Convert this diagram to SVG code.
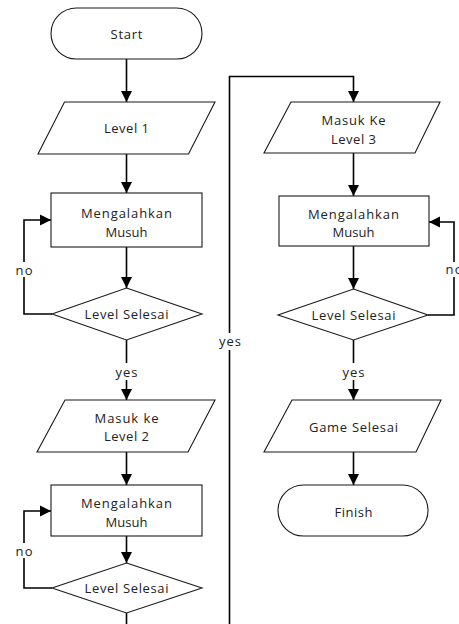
<svg xmlns="http://www.w3.org/2000/svg" width="459" height="624" viewBox="0 0 459 624">
<defs>
<marker id="ah" markerUnits="userSpaceOnUse" markerWidth="12" markerHeight="12" viewBox="0 0 12 12" refX="11" refY="6" orient="auto">
<path d="M0,0.5 L11,6 L0,11.5 Z" fill="#000"/>
</marker>
<style>
.sh{fill:#fff;stroke:#1a1a1a;stroke-width:1.1}
.ln{fill:none;stroke:#000;stroke-width:1.6}
.tx{font-family:"Open Sans","Liberation Sans",sans-serif;font-size:13px;fill:#222;text-anchor:middle;dominant-baseline:central}
.bg{fill:#fff}
</style>
</defs>
<rect width="459" height="624" fill="#fff"/>
<g id="connectors">
<path class="ln" d="M126.5,59 V102" marker-end="url(#ah)"/>
<path class="ln" d="M126.5,154 V193" marker-end="url(#ah)"/>
<path class="ln" d="M126.5,247 V288" marker-end="url(#ah)"/>
<path class="ln" d="M52,314 H24 V220 H51" marker-end="url(#ah)"/>
<path class="ln" d="M126.5,340 V400" marker-end="url(#ah)"/>
<path class="ln" d="M126.5,452 V485" marker-end="url(#ah)"/>
<path class="ln" d="M126.5,536 V563" marker-end="url(#ah)"/>
<path class="ln" d="M52,588 H24 V511 H51" marker-end="url(#ah)"/>
<path class="ln" d="M126.5,613 V640"/>
<path class="ln" d="M229.5,640 V76.5 H353.5 V102" marker-end="url(#ah)"/>
<path class="ln" d="M353.5,153 V196" marker-end="url(#ah)"/>
<path class="ln" d="M353.5,246 V289" marker-end="url(#ah)"/>
<path class="ln" d="M428,315 H454 V222 H429" marker-end="url(#ah)"/>
<path class="ln" d="M353.5,340 V400" marker-end="url(#ah)"/>
<path class="ln" d="M353.5,452 V485" marker-end="url(#ah)"/>
<rect class="bg" x="14" y="262" width="20" height="15"/>
<text class="tx" x="24" y="270" textLength="17">no</text>
<rect class="bg" x="14" y="543" width="20" height="15"/>
<text class="tx" x="24" y="551" textLength="17">no</text>
<rect class="bg" x="444" y="262" width="15" height="15"/>
<text class="tx" x="454" y="269" textLength="17">no</text>
<rect class="bg" x="114" y="363" width="25" height="17"/>
<text class="tx" x="126.5" y="372" textLength="22">yes</text>
<rect class="bg" x="341" y="363" width="25" height="17"/>
<text class="tx" x="353.5" y="372" textLength="22">yes</text>
<rect class="bg" x="217" y="333" width="26" height="17"/>
<text class="tx" x="230" y="341" textLength="22">yes</text>
</g>
<g id="start">
<rect class="sh" x="51" y="8" width="151" height="51" rx="25.5"/>
<text class="tx" x="126.5" y="34" textLength="32">Start</text>
</g>
<g id="level1">
<polygon class="sh" points="64.5,102 215,102 188.5,154 38,154"/>
<text class="tx" x="126.5" y="128" textLength="45">Level 1</text>
</g>
<g id="musuh1">
<rect class="sh" x="51" y="193" width="151" height="54"/>
<text class="tx" x="126.5" y="213" textLength="91">Mengalahkan</text>
<text class="tx" x="126.5" y="232">Musuh</text>
</g>
<g id="selesai1">
<polygon class="sh" points="126.5,288 202,314 126.5,340 52,314"/>
<text class="tx" x="126.5" y="314" textLength="84">Level Selesai</text>
</g>
<g id="level2">
<polygon class="sh" points="65,400 215,400 188,452 37,452"/>
<text class="tx" x="126.5" y="418" textLength="64">Masuk ke</text>
<text class="tx" x="126.5" y="436" textLength="45">Level 2</text>
</g>
<g id="musuh2">
<rect class="sh" x="51" y="485" width="151" height="51"/>
<text class="tx" x="126.5" y="503" textLength="91">Mengalahkan</text>
<text class="tx" x="126.5" y="522">Musuh</text>
</g>
<g id="selesai2">
<polygon class="sh" points="126.5,563 202,588 126.5,613 52,588"/>
<text class="tx" x="126.5" y="588" textLength="84">Level Selesai</text>
</g>
<g id="level3">
<polygon class="sh" points="291,102 440,102 415,153 264,153"/>
<text class="tx" x="353.5" y="120" textLength="64">Masuk Ke</text>
<text class="tx" x="353.5" y="139" textLength="45">Level 3</text>
</g>
<g id="musuh3">
<rect class="sh" x="279" y="196" width="150" height="50"/>
<text class="tx" x="353.5" y="214" textLength="91">Mengalahkan</text>
<text class="tx" x="353.5" y="232">Musuh</text>
</g>
<g id="selesai3">
<polygon class="sh" points="353.5,289 428,315 353.5,340 278,315"/>
<text class="tx" x="353.5" y="315" textLength="84">Level Selesai</text>
</g>
<g id="gameselesai">
<polygon class="sh" points="292,400 441,400 416,452 264,452"/>
<text class="tx" x="353.5" y="427" textLength="89">Game Selesai</text>
</g>
<g id="finish">
<rect class="sh" x="278" y="485" width="150" height="51" rx="25.5"/>
<text class="tx" x="353.5" y="512" textLength="38">Finish</text>
</g>
</svg>
